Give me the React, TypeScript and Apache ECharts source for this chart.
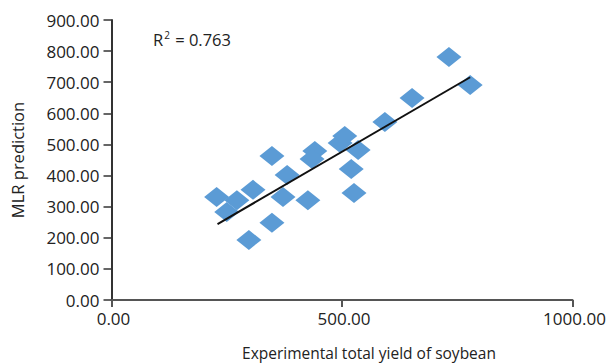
import React, { useEffect, useRef } from "react";
import * as echarts from "echarts";

const xValues = [228, 250, 272, 307, 298, 348, 348, 381, 372, 426, 441, 435, 496, 506, 535, 520, 526, 593, 652, 732, 778];
const yValues = [331, 283, 321, 354, 193, 463, 248, 402, 331, 321, 479, 453, 505, 527, 482, 421, 344, 572, 649, 781, 691];
const fitX = [230, 778];
const fitY = [244, 716];
const r2Label = "0.763";

export default function App() {
  const ref = useRef<HTMLDivElement>(null);
  useEffect(() => {
    if (!ref.current) return;
    const chart = echarts.init(ref.current, undefined, { renderer: "svg" });
    const font = "Open Sans";
    const numFont = "Open Sans";
    chart.setOption({
      animation: false,
      backgroundColor: "#ffffff",
      grid: { left: 111.5, right: 36.5, top: 20, bottom: 64 },
      xAxis: {
        type: "value",
        min: 0,
        max: 1000,
        interval: 500,
        splitLine: { show: false },
        axisLine: { show: true, lineStyle: { color: "#555555", width: 2 } },
        axisTick: { show: true, length: 7, lineStyle: { color: "#555555", width: 2 } },
        axisLabel: {
          color: "#222222",
          fontFamily: numFont,
          fontSize: 17,
          margin: 10,
          padding: [0, 0, 0, 4],
          formatter: (v: number) => v.toFixed(2),
        },
      },
      yAxis: {
        type: "value",
        min: 0,
        max: 900,
        interval: 100,
        splitLine: { show: false },
        axisLine: { show: true, lineStyle: { color: "#333333", width: 2 } },
        axisTick: { show: true, length: 8, lineStyle: { color: "#333333", width: 1.5 } },
        axisLabel: {
          color: "#222222",
          fontFamily: numFont,
          fontSize: 17,
          margin: 12,
          formatter: (v: number) => v.toFixed(2),
        },
        name: "MLR prediction",
        nameLocation: "middle",
        nameGap: 86,
        nameTextStyle: { color: "#222222", fontFamily: font, fontSize: 16.5 },
      },
      graphic: [
        {
          type: "text",
          x: 369,
          y: 353,
          style: {
            text: "Experimental total yield of soybean",
            fill: "#222222",
            font: `15.5px "${font}"`,
            align: "center",
            verticalAlign: "middle",
          },
        },
        {
          type: "text",
          x: 153,
          y: 39,
          style: {
            text: "{a|R}{s|2}{a| = " + r2Label + "}",
            verticalAlign: "middle",
            rich: {
              a: { fill: "#222222", fontFamily: numFont, fontSize: 16.5, verticalAlign: "bottom" },
              s: { fill: "#222222", fontFamily: numFont, fontSize: 10, verticalAlign: "top", padding: [0, 1, 8, 1] },
            },
          },
        },
      ],
      series: [
        {
          type: "scatter",
          symbol: "diamond",
          symbolSize: [25, 20],
          itemStyle: { color: "#5b9bd5", opacity: 1 },
          data: xValues.map((x, i) => [x, yValues[i]]),
          z: 2,
        },
        {
          type: "line",
          data: fitX.map((x, i) => [x, fitY[i]]),
          symbol: "none",
          lineStyle: { color: "#111111", width: 2 },
          z: 3,
        },
      ],
    });
    return () => chart.dispose();
  }, []);
  return (
    <div
      ref={ref}
      style={{ position: "fixed", left: 0, top: 0, width: 609, height: 364 }}
    />
  );
}
